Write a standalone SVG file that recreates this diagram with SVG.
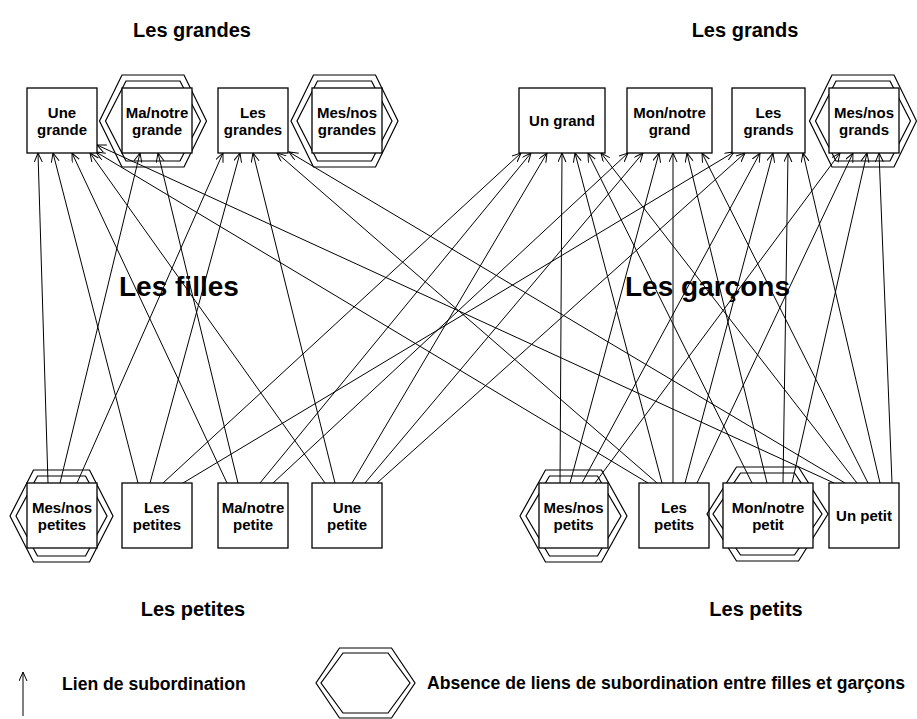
<svg xmlns="http://www.w3.org/2000/svg" width="917" height="719" viewBox="0 0 917 719">
<defs>
<marker id="arr" markerUnits="userSpaceOnUse" markerWidth="12" markerHeight="10" refX="9" refY="4" orient="auto">
<path d="M0,0 L9,4 L0,8" fill="none" stroke="#000" stroke-width="1"/>
</marker>
<style>
.box{fill:#fff;stroke:#000;stroke-width:1.3}
.hex{fill:none;stroke:#000;stroke-width:1.2}
.lbl{font-family:"Liberation Sans",Arial,sans-serif;font-weight:bold;font-size:15px;text-anchor:middle;fill:#000}
.ttl{font-family:"Liberation Sans",Arial,sans-serif;font-weight:bold;font-size:20px;text-anchor:middle;fill:#000}
.big{font-family:"Liberation Sans",Arial,sans-serif;font-weight:bold;font-size:28px;fill:#000}
.leg{font-family:"Liberation Sans",Arial,sans-serif;font-weight:bold;font-size:17.6px;fill:#000}
#connectors line{stroke:#000;stroke-width:1;marker-end:url(#arr)}
</style>
</defs>
<rect width="917" height="719" fill="#fff"/>

<text class="ttl" x="192" y="37">Les grandes</text>
<text class="ttl" x="745" y="37">Les grands</text>
<text class="ttl" x="193" y="616">Les petites</text>
<text class="ttl" x="756" y="616">Les petits</text>
<text class="big" x="119" y="296">Les filles</text>
<text class="big" x="625" y="296">Les garçons</text>

<g id="connectors">
<line x1="48" y1="483" x2="38" y2="153"/>
<line x1="138" y1="483" x2="53" y2="153"/>
<line x1="227" y1="483" x2="72" y2="153"/>
<line x1="325" y1="483" x2="90" y2="153"/>
<line x1="648" y1="483" x2="96" y2="152"/>
<line x1="834" y1="483" x2="97" y2="145"/>
<line x1="60" y1="483" x2="140" y2="153"/>
<line x1="238" y1="483" x2="158" y2="153"/>
<line x1="77" y1="483" x2="223" y2="153"/>
<line x1="150" y1="483" x2="240" y2="153"/>
<line x1="335" y1="483" x2="253" y2="153"/>
<line x1="657" y1="483" x2="277" y2="153"/>
<line x1="845" y1="483" x2="289" y2="152"/>
<line x1="163" y1="483" x2="521" y2="153"/>
<line x1="260" y1="483" x2="531" y2="153"/>
<line x1="352" y1="483" x2="547" y2="153"/>
<line x1="560" y1="483" x2="562" y2="153"/>
<line x1="662" y1="483" x2="575" y2="153"/>
<line x1="752" y1="483" x2="588" y2="153"/>
<line x1="857" y1="483" x2="601" y2="153"/>
<line x1="273" y1="483" x2="628" y2="153"/>
<line x1="365" y1="483" x2="643" y2="153"/>
<line x1="570" y1="483" x2="659" y2="153"/>
<line x1="673" y1="483" x2="673" y2="153"/>
<line x1="767" y1="483" x2="687" y2="153"/>
<line x1="868" y1="483" x2="702" y2="153"/>
<line x1="183" y1="483" x2="734" y2="152"/>
<line x1="377" y1="483" x2="745" y2="153"/>
<line x1="582" y1="483" x2="760" y2="153"/>
<line x1="685" y1="483" x2="773" y2="153"/>
<line x1="783" y1="483" x2="788" y2="153"/>
<line x1="880" y1="483" x2="803" y2="153"/>
<line x1="595" y1="483" x2="840" y2="153"/>
<line x1="697" y1="483" x2="853" y2="153"/>
<line x1="792" y1="483" x2="867" y2="153"/>
<line x1="892" y1="483" x2="879" y2="153"/>
</g>

<g id="une-grande">
<rect class="box" x="27" y="88" width="70" height="65"/>
<text class="lbl" x="62" y="118">Une</text><text class="lbl" x="62" y="135">grande</text>
</g>
<g id="ma-notre-grande">
<polygon class="hex" points="122,75 184,75 206.5,121 184,167 122,167 99.5,121"/>
<polygon class="hex" points="126,81 180,81 200.5,121 180,161 126,161 105.5,121"/>
<rect class="box" x="122" y="88" width="70" height="65"/>
<text class="lbl" x="157" y="118">Ma/notre</text><text class="lbl" x="157" y="135">grande</text>
</g>
<g id="les-grandes">
<rect class="box" x="218" y="88" width="70" height="65"/>
<text class="lbl" x="253" y="118">Les</text><text class="lbl" x="253" y="135">grandes</text>
</g>
<g id="mes-nos-grandes">
<polygon class="hex" points="313.5,75 375.5,75 398,121 375.5,167 313.5,167 291,121"/>
<polygon class="hex" points="317.5,81 371.5,81 392,121 371.5,161 317.5,161 297,121"/>
<rect class="box" x="312" y="88" width="70" height="65"/>
<text class="lbl" x="347" y="118">Mes/nos</text><text class="lbl" x="347" y="135">grandes</text>
</g>
<g id="un-grand">
<rect class="box" x="519" y="88" width="86" height="65"/>
<text class="lbl" x="562" y="126">Un grand</text>
</g>
<g id="mon-notre-grand">
<rect class="box" x="627" y="88" width="85" height="65"/>
<text class="lbl" x="669.5" y="118">Mon/notre</text><text class="lbl" x="669.5" y="135">grand</text>
</g>
<g id="les-grands">
<rect class="box" x="732" y="88" width="73" height="65"/>
<text class="lbl" x="768.5" y="118">Les</text><text class="lbl" x="768.5" y="135">grands</text>
</g>
<g id="mes-nos-grands">
<polygon class="hex" points="832,75 894,75 916.5,121 894,167 832,167 809.5,121"/>
<polygon class="hex" points="836,81 890,81 910.5,121 890,161 836,161 815.5,121"/>
<rect class="box" x="829" y="88" width="70" height="65"/>
<text class="lbl" x="864" y="118">Mes/nos</text><text class="lbl" x="864" y="135">grands</text>
</g>

<g id="mes-nos-petites">
<polygon class="hex" points="33.5,470 89.5,470 113,516 89.5,562 33.5,562 10,516"/>
<polygon class="hex" points="37.5,476 85.5,476 107,516 85.5,556 37.5,556 16,516"/>
<rect class="box" x="27" y="483" width="70" height="65"/>
<text class="lbl" x="62" y="513">Mes/nos</text><text class="lbl" x="62" y="530">petites</text>
</g>
<g id="les-petites">
<rect class="box" x="122" y="483" width="70" height="65"/>
<text class="lbl" x="157" y="513">Les</text><text class="lbl" x="157" y="530">petites</text>
</g>
<g id="ma-notre-petite">
<rect class="box" x="218" y="483" width="70" height="65"/>
<text class="lbl" x="253" y="513">Ma/notre</text><text class="lbl" x="253" y="530">petite</text>
</g>
<g id="une-petite">
<rect class="box" x="312" y="483" width="70" height="65"/>
<text class="lbl" x="347" y="513">Une</text><text class="lbl" x="347" y="530">petite</text>
</g>
<g id="mes-nos-petits">
<polygon class="hex" points="545.5,470 601.5,470 627,516 601.5,562 545.5,562 520,516"/>
<polygon class="hex" points="549.5,476 597.5,476 621,516 597.5,556 549.5,556 526,516"/>
<rect class="box" x="539" y="483" width="69" height="65"/>
<text class="lbl" x="573.5" y="513">Mes/nos</text><text class="lbl" x="573.5" y="530">petits</text>
</g>
<g id="les-petits">
<rect class="box" x="639" y="483" width="70" height="65"/>
<text class="lbl" x="674" y="513">Les</text><text class="lbl" x="674" y="530">petits</text>
</g>
<g id="mon-notre-petit">
<polygon class="hex" points="736.5,467 798.5,467 828,514 798.5,561 736.5,561 707,514"/>
<polygon class="hex" points="740.5,473 794.5,473 822,514 794.5,555 740.5,555 713,514"/>
<rect class="box" x="723" y="483" width="90" height="65"/>
<text class="lbl" x="768" y="513">Mon/notre</text><text class="lbl" x="768" y="530">petit</text>
</g>
<g id="un-petit">
<rect class="box" x="829" y="483" width="70" height="65"/>
<text class="lbl" x="864" y="521">Un petit</text>
</g>

<g id="legend">
<line x1="23" y1="716" x2="23" y2="672" stroke="#000" stroke-width="1" marker-end="url(#arr)"/>
<text class="leg" x="62" y="690">Lien de subordination</text>
<polygon class="hex" points="339.5,648 391.5,648 415,683 391.5,718 339.5,718 316,683"/>
<polygon class="hex" points="343,653 388,653 410,683 388,713 343,713 321,683"/>
<text class="leg" x="427" y="689">Absence de liens de subordination entre filles et garçons</text>
</g>
</svg>
